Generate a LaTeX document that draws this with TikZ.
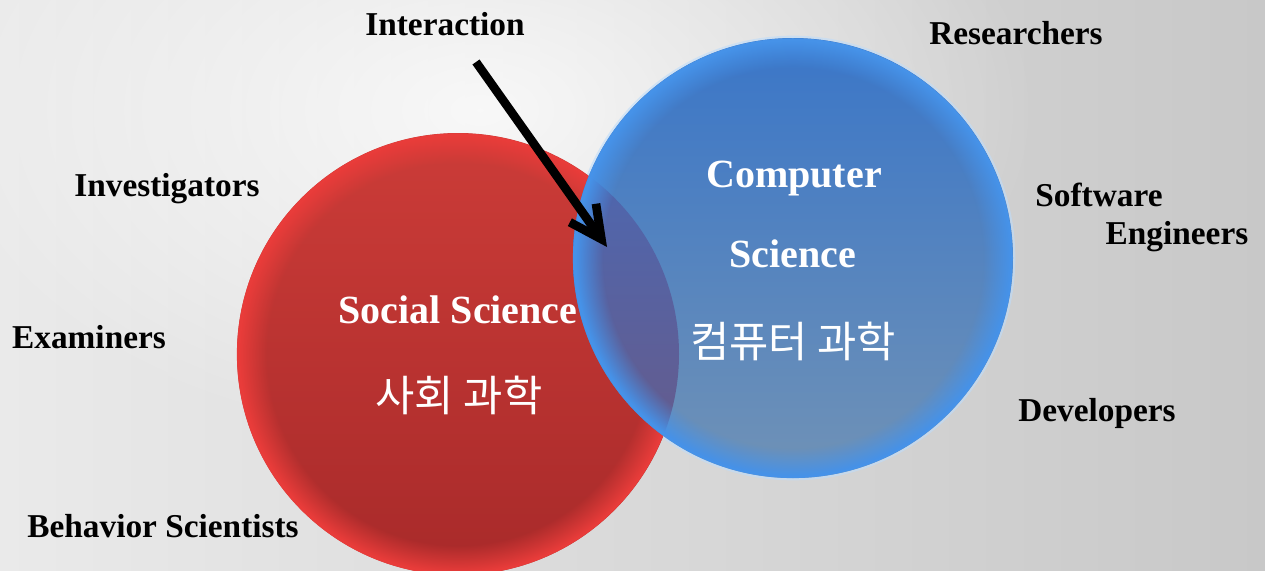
\documentclass[tikz,border=0pt]{standalone}
\usepackage{fontspec}
\setmainfont{Liberation Serif}
\newfontfamily\hangul{Noto Sans CJK KR}
\usetikzlibrary{arrows.meta,fadings}

% palette
\definecolor{bgL}{RGB}{234,234,234}
\definecolor{bgR}{RGB}{200,200,200}
\definecolor{redT}{RGB}{204,60,56}
\definecolor{redB}{RGB}{168,42,42}
\definecolor{redRim}{RGB}{232,60,58}
\definecolor{bluT}{RGB}{58,118,200}
\definecolor{bluM}{RGB}{82,134,198}
\definecolor{bluB}{RGB}{112,146,182}
\definecolor{bluRim}{RGB}{70,146,232}
\definecolor{bluGlow}{RGB}{190,220,250}
\definecolor{ovT}{RGB}{66,108,192}
\definecolor{ovB}{RGB}{104,90,136}

% soft rim: transparent inside, opaque towards the edge of the disc
\pgfdeclareradialshading{rimshade}{\pgfpointorigin}{%
  color(0bp)=(black); color(21.5bp)=(black);
  color(24.6bp)=(white); color(25bp)=(white); color(50bp)=(white)}
\pgfdeclarefading{rimfade}{\pgfuseshading{rimshade}}
% soft glow for the background
\tikzfading[name=glowfade, inner color=transparent!0, outer color=transparent!100]

\tikzset{
  lbl/.style={font=\fontsize{25}{30}\selectfont\bfseries, text=black,
              inner sep=0pt, anchor=base},
  ttl/.style={font=\fontsize{30}{36}\selectfont\bfseries, text=white,
              inner sep=0pt, anchor=base},
  kor/.style={font=\hangul\fontsize{32}{38}\selectfont, text=white,
              inner sep=0pt, anchor=base},
  pointer/.style={line width=6.5pt,
                  -{Straight Barb[length=24pt,width=24pt]}}
}

\begin{document}
\begin{tikzpicture}[x=0.75pt,y=-0.75pt]
  \useasboundingbox (0,0) rectangle (1265,571);
  \clip (0,0) rectangle (1265,571);

  % background
  \shade[left color=bgL, right color=bgR] (0,0) rectangle (1265,571);
  \fill[white, path fading=glowfade, opacity=0.8] (480,110) ellipse (560 and 340);

  % faint halo around the blue disc (hidden under the red one)
  \coordinate (B) at (793,258);
  \draw[bluGlow, opacity=0.6, line width=2pt] (B) circle (221);

  % red disc
  \coordinate (R) at (458,354);
  \shade[top color=redT, bottom color=redB] (R) circle (221);
  \fill[redRim, path fading=rimfade] (R) circle (221);

  % blue disc
  \shade[top color=bluT, middle color=bluM, bottom color=bluB] (B) circle (220);
  \begin{scope}
    \clip (R) circle (221);
    \shade[top color=ovT, bottom color=ovB] (B) circle (220);
  \end{scope}
  \fill[bluRim, path fading=rimfade] (B) circle (220);

  % outer labels
  \node[lbl] (inter) at (445,36) {Interaction};
  \node[lbl] (res)   at (1016,44) {Researchers};
  \node[lbl] (inv)   at (167,196) {Investigators};
  \node[lbl] (exa)   at (89,348) {Examiners};
  \node[lbl] (beh)   at (163,537) {Behavior Scientists};
  \node[lbl] (soft)  at (1099,206) {Software};
  \node[lbl] (eng)   at (1177,244) {Engineers};
  \node[lbl] (dev)   at (1097,421) {Developers};

  % disc titles
  \node[ttl] (soc)  at (458,323) {Social Science};
  \node[kor] (socK) at (459,411) {사회 과학};
  \node[ttl] (comp) at (794,187) {Computer};
  \node[ttl] (sci)  at (793,267) {Science};
  \node[kor] (comK) at (793,357) {컴퓨터 과학};

  % pointer into the overlap
  \coordinate (arrS) at (476,62);
  \coordinate (arrE) at (607,247);
  \draw[pointer] (arrS) -- (arrE);
\end{tikzpicture}
\end{document}
